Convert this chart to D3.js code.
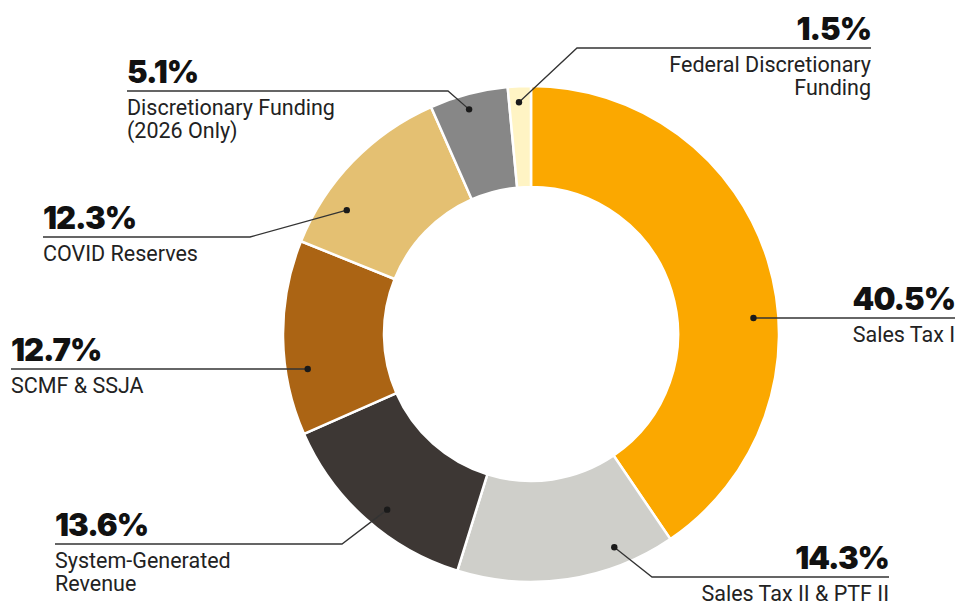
<!DOCTYPE html>
<html>
<head>
<meta charset="utf-8">
<script src="https://cdn.jsdelivr.net/npm/d3@7"></script>
<style>
  html, body { margin: 0; padding: 0; background: #fff; }
  svg { display: block; }
  .pct { font-family: Inter, Roboto, sans-serif; font-weight: 900; font-size: 31px; fill: #111; letter-spacing: -1px; }
  .lbl { font-family: Roboto, "Noto Sans", sans-serif; font-weight: 400; font-size: 21.5px; fill: #222; }
</style>
</head>
<body>
<div class="DonutChart"></div>
<script>
// Chart data
const categories = [
  "Sales Tax I",
  "Sales Tax II & PTF II",
  "System-Generated Revenue",
  "SCMF & SSJA",
  "COVID Reserves",
  "Discretionary Funding (2026 Only)",
  "Federal Discretionary Funding"
];
const shares = [40.5, 14.3, 13.6, 12.7, 12.3, 5.1, 1.5];
const labelLines = [
  ["Sales Tax I"],
  ["Sales Tax II & PTF II"],
  ["System-Generated", "Revenue"],
  ["SCMF & SSJA"],
  ["COVID Reserves"],
  ["Discretionary Funding", "(2026 Only)"],
  ["Federal Discretionary", "Funding"]
];
const colors = ["#FBA800", "#CFCFCA", "#3D3734", "#AB6414", "#E4C072", "#878787", "#FFF4C4"];

// Callout layout (where each label sits and where its leader bends)
const callouts = [
  { side: "right", textX: 955, lineY: 318, elbowX: null, dotFrac: 0.59, dotR: 223 },
  { side: "right", textX: 889, lineY: 577, elbowX: 652, dotFrac: 0.25, dotR: 229 },
  { side: "left", textX: 55, lineY: 544, elbowX: 342, dotFrac: 0.45, dotR: 227 },
  { side: "left", textX: 11, lineY: 369, elbowX: null, dotFrac: 0.325, dotR: 226 },
  { side: "left", textX: 43, lineY: 237, elbowX: 250, dotFrac: 0.27, dotR: 222 },
  { side: "left", textX: 127, lineY: 91, elbowX: 448, dotFrac: 0.455, dotR: 233 },
  { side: "right", textX: 871, lineY: 48, elbowX: 577, dotFrac: 0.45, dotR: 232 }
];

const width = 963;
const height = 607;
const cx = 531;
const cy = 334;
const outerR = 248;
const innerR = 147;

const svg = d3
  .select(".DonutChart")
  .append("svg")
  .attr("width", width)
  .attr("height", height);

const data = categories.map((c, i) => ({ name: c, value: shares[i], i: i }));

const pie = d3
  .pie()
  .sort(null)
  .value((d) => d.value);

const arc = d3.arc().innerRadius(innerR).outerRadius(outerR);

const arcs = pie(data);

const g = svg.append("g").attr("transform", `translate(${cx},${cy})`);

// Slices
g.selectAll(".slice")
  .data(arcs)
  .enter()
  .append("path")
  .attr("class", "slice")
  .attr("d", arc)
  .attr("fill", (d) => colors[d.data.i])
  .attr("stroke", "#fff")
  .attr("stroke-width", 2.5)
  .attr("stroke-linejoin", "miter");

// Callouts
arcs.forEach((a, i) => {
  const c = callouts[i];
  const ang = a.startAngle + (a.endAngle - a.startAngle) * c.dotFrac;
  const dx = cx + c.dotR * Math.sin(ang);
  const dy = cy - c.dotR * Math.cos(ang);

  svg
    .append("text")
    .attr("class", "pct")
    .attr("x", c.textX)
    .attr("y", c.lineY - 8.5)
    .attr("text-anchor", c.side === "right" ? "end" : "start")
    .text(shares[i].toFixed(1) + "%");

  const lbl = svg
    .append("text")
    .attr("class", "lbl")
    .attr("text-anchor", c.side === "right" ? "end" : "start");
  labelLines[i].forEach((t, k) => {
    lbl
      .append("tspan")
      .attr("x", c.textX)
      .attr("y", c.lineY + 24 + k * 23)
      .text(t);
  });

  // leader line: outer end -> elbow -> dot
  const pts = [[c.textX, c.lineY]];
  if (c.elbowX !== null) {
    pts.push([c.elbowX, c.lineY]);
    pts.push([dx, dy]);
  } else {
    pts.push([dx, c.lineY]);
  }
  svg
    .append("path")
    .attr("d", d3.line()(pts))
    .attr("fill", "none")
    .attr("stroke", "#333")
    .attr("stroke-width", 1.3);

  svg
    .append("circle")
    .attr("cx", dx)
    .attr("cy", c.elbowX !== null ? dy : c.lineY)
    .attr("r", 3.2)
    .attr("fill", "#1a1a1a");
});
</script>
</body>
</html>
